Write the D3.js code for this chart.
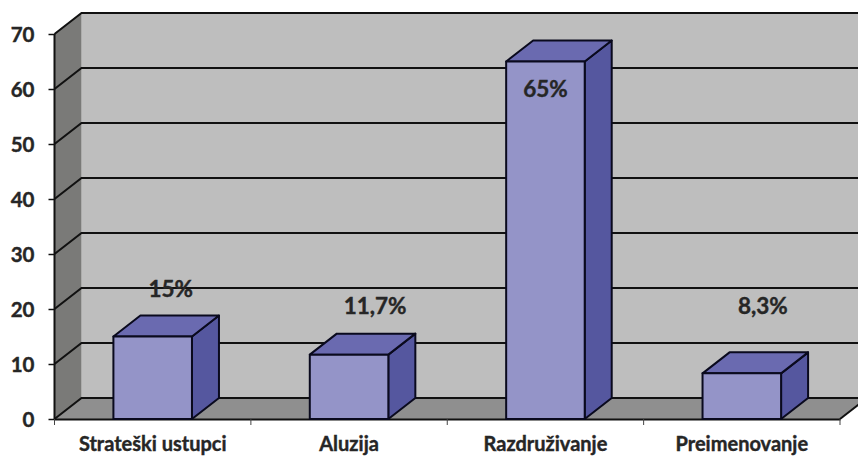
<!DOCTYPE html>
<html>
<head>
<meta charset="utf-8">
<script src="https://cdn.jsdelivr.net/npm/d3@7"></script>
<style>
html, body { margin: 0; padding: 0; background: #fff; overflow: hidden; }
text { font-family: Lato, "Open Sans", sans-serif; font-weight: 700; fill: #262626; stroke: #262626; stroke-width: 0.4px; }
</style>
</head>
<body>
<div id="chart"></div>
<script>
var categories = ["Strateški ustupci", "Aluzija", "Razdruživanje", "Preimenovanje"];
var values = [15, 11.7, 65, 8.3];
var valueLabels = ["15%", "11,7%", "65%", "8,3%"];
var yTicks = [0, 10, 20, 30, 40, 50, 60, 70];

var width = 858,
	height = 457,
	depthX = 27,
	depthY = -21;

var x = d3.scaleBand().domain(categories).range([54.5, 840]).paddingInner(0.6).paddingOuter(0.3);
var band = d3.scaleBand().domain(categories).range([54.5, 840]);
var y = d3.scaleLinear().domain([0, 70]).range([419, 34]);

// the labels were placed by hand in the original, they don't follow the bars
var labelShift = [18, 26, 0, 21];
var labelValue = [23.7, 20.6, 59.9, 20.6];

var svg = d3.select("#chart").append("svg")
	.attr("width", width)
	.attr("height", height)
	.style("display", "block");

function poly(points, fill, stroke, sw) {
	return svg.append("polygon")
		.attr("points", points.map(function (p) { return p.join(","); }).join(" "))
		.attr("fill", fill)
		.attr("stroke", stroke || "none")
		.attr("stroke-width", sw || 0)
		.attr("stroke-linejoin", "round");
}

var x0 = x.range()[0],
	x1 = x.range()[1];

// walls and floor
poly([[x0 + depthX, y(70) + depthY], [x1 + depthX, y(70) + depthY], [x1 + depthX, y(0) + depthY], [x0 + depthX, y(0) + depthY]], "#bebebe");
poly([[x0, y(70)], [x0 + depthX, y(70) + depthY], [x0 + depthX, y(0) + depthY], [x0, y(0)]], "#7a7a78");
poly([[x0, y(0)], [x0 + depthX, y(0) + depthY], [x1 + depthX, y(0) + depthY], [x1, y(0)]], "#8f8f8f");

// gridlines go round the side wall
svg.selectAll("path.grid")
	.data(yTicks)
	.join("path")
	.attr("class", "grid")
	.attr("d", function (d) {
		return "M" + x0 + "," + y(d) + "L" + (x0 + depthX) + "," + (y(d) + depthY) + "H" + (x1 + depthX);
	})
	.attr("fill", "none")
	.attr("stroke", "#111")
	.attr("stroke-width", 2);

svg.append("line")
	.attr("x1", x0).attr("x2", x0)
	.attr("y1", y(70)).attr("y2", y(0))
	.attr("stroke", "#111").attr("stroke-width", 2);

svg.append("path")
	.attr("d", "M" + x1 + "," + y(0) + "L" + (x1 + depthX) + "," + (y(0) + depthY))
	.attr("stroke", "#111").attr("stroke-width", 2);

// axes
var yAxis = d3.axisLeft(y).tickValues(yTicks).tickSize(6).tickPadding(14);
var gy = svg.append("g").attr("transform", "translate(" + x0 + ",0)").call(yAxis);
gy.select(".domain").remove();
gy.selectAll("line").attr("stroke", "#111").attr("stroke-width", 1.5);
gy.selectAll("text").style("font-size", "20.5px").attr("dy", "0.36em");

var xAxis = d3.axisBottom(band).tickSize(0).tickPadding(18);
var gx = svg.append("g").attr("transform", "translate(0," + y(0) + ")").call(xAxis);
gx.select(".domain").attr("stroke", "#111").attr("stroke-width", 2);
gx.selectAll("text").style("font-size", "20px").attr("dy", "0.71em");

svg.append("g").selectAll("line")
	.data(d3.range(categories.length + 1))
	.join("line")
	.attr("x1", function (i) { return x0 + i * band.step(); })
	.attr("x2", function (i) { return x0 + i * band.step(); })
	.attr("y1", y(0))
	.attr("y2", y(0) + 6)
	.attr("stroke", "#444")
	.attr("stroke-width", 1);

// bars
values.forEach(function (v, i) {
	var l = x(categories[i]),
		r = l + x.bandwidth(),
		t = y(v),
		b = y(0);

	poly([[r, t], [r + depthX, t + depthY], [r + depthX, b + depthY], [r, b]], "#55579f", "#0a0a1e", 2);
	poly([[l, t], [l + depthX, t + depthY], [r + depthX, t + depthY], [r, t]], "#6a6ab0", "#0a0a1e", 2);
	poly([[l, t], [r, t], [r, b], [l, b]], "#9494c8", "#0a0a1e", 2);
});

// value labels
svg.append("g").selectAll("text")
	.data(values)
	.join("text")
	.attr("x", function (d, i) { return band(categories[i]) + band.bandwidth() / 2 + labelShift[i]; })
	.attr("y", function (d, i) { return y(labelValue[i]); })
	.attr("text-anchor", "middle")
	.attr("dy", "0.35em")
	.style("font-size", "22.5px")
	.text(function (d, i) { return valueLabels[i]; });
</script>
</body>
</html>
